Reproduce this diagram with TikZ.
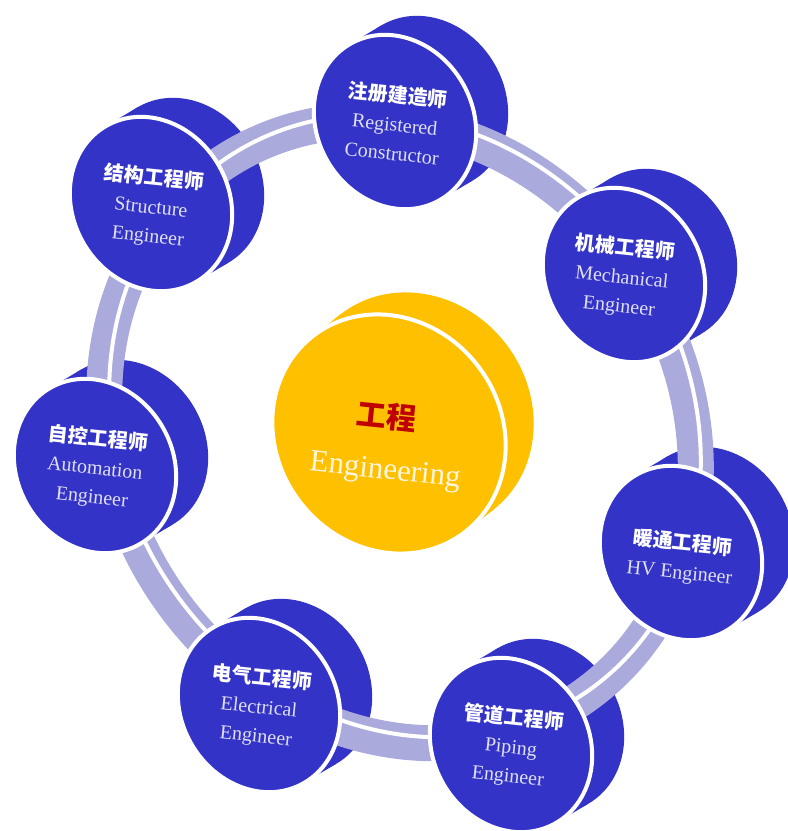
\documentclass[tikz,border=0pt]{standalone}
\usepackage{fontspec}
\setmainfont{Liberation Serif}
\newfontfamily\cjk{Noto Sans CJK SC}
\usetikzlibrary{calc}
\definecolor{coinblue}{RGB}{51,51,200}
\definecolor{coinyellow}{RGB}{255,192,0}
\definecolor{ringlav}{RGB}{170,170,220}
\definecolor{engred}{RGB}{192,0,0}
\definecolor{txtlav}{RGB}{224,224,244}
\definecolor{txtcream}{RGB}{255,246,222}
\begin{document}
\begin{tikzpicture}[x=1pt,y=1pt,
  coinlabel/.style={rotate=-6, align=center, text=txtlav, inner sep=0pt,
    font=\fontsize{20}{29}\selectfont},
  backblue/.style={fill=coinblue},
  frontblue/.style={fill=coinblue, draw=white, line width=4pt},
  backyellow/.style={fill=coinyellow},
  frontyellow/.style={fill=coinyellow, draw=white, line width=4pt},
]
\useasboundingbox (0,0) rectangle (788,831);

% coin centres (front faces)
\coordinate (c0) at (389,397);
\coordinate (c1) at (395,709);
\coordinate (c2) at (624,556);
\coordinate (c3) at (681,278);
\coordinate (c4) at (511,86);
\coordinate (c5) at (259,126);
\coordinate (c6) at (95,365);
\coordinate (c7) at (151,627);
\coordinate (rc) at (400,399);
\coordinate (wc) at (405,405);

% back discs and sides of the blue coins
\foreach \cid in {c1,c2,c3,c4,c5,c6,c7}{
  \fill[backblue] ($(\cid)+(32,19)$) ellipse[x radius=78, y radius=90, rotate=30];
  \fill[backblue] ($(\cid)+(120:90)$) -- ($(\cid)+(120:90)+(32,19)$)
     -- ($(\cid)+(-60:90)+(32,19)$) -- ($(\cid)+(-60:90)$) -- cycle;
}

% ring
\draw[ringlav, line width=36pt] (rc) ellipse[x radius=322, y radius=284, rotate=-57];
\draw[white, line width=4pt] (wc) ellipse[x radius=322, y radius=284, rotate=-57];

% central coin
\fill[backyellow] ($(c0)+(28,22)$) ellipse[x radius=112, y radius=124, rotate=38];
\fill[backyellow] ($(c0)+(128:124)$) -- ($(c0)+(128:124)+(28,22)$)
   -- ($(c0)+(-52:124)+(28,22)$) -- ($(c0)+(-52:124)$) -- cycle;
\filldraw[frontyellow] (c0) ellipse[x radius=112, y radius=124, rotate=38];

% front faces of the blue coins
\foreach \cid in {c1,c2,c3,c4,c5,c6,c7}{
  \filldraw[frontblue] (\cid) ellipse[x radius=78, y radius=90, rotate=30];
}

% labels
\node[rotate=-6, inner sep=0pt, text=engred, font=\cjk\bfseries\fontsize{30}{30}\selectfont] (t0a) at (387,415) {工程};
\node[rotate=-6, inner sep=0pt, text=txtcream, font=\fontsize{31}{31}\selectfont] (t0b) at (385,359) {Engineering};

\node[coinlabel] (t1) at ($(c1)+(0,-1)$) {{\cjk\bfseries\color{white}注册建造师}\\Registered\\Constructor};
\node[coinlabel] (t2) at ($(c2)+(-2,-2)$) {{\cjk\bfseries\color{white}机械工程师}\\Mechanical\\Engineer};
\node[coinlabel] (t3) at ($(c3)+(0,-5)$) {{\cjk\bfseries\color{white}暖通工程师}\\HV Engineer};
\node[coinlabel] (t4) at ($(c4)+(0,-2)$) {{\cjk\bfseries\color{white}管道工程师}\\Piping\\Engineer};
\node[coinlabel] (t5) at ($(c5)+(0,-2)$) {{\cjk\bfseries\color{white}电气工程师}\\Electrical\\Engineer};
\node[coinlabel] (t6) at ($(c6)+(0,-2)$) {{\cjk\bfseries\color{white}自控工程师}\\Automation\\Engineer};
\node[coinlabel] (t7) at ($(c7)+(0,-3)$) {{\cjk\bfseries\color{white}结构工程师}\\Structure\\Engineer};
\end{tikzpicture}
\end{document}
